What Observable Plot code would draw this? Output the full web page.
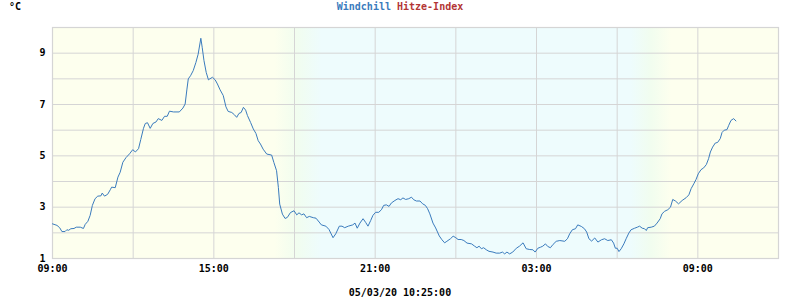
<!DOCTYPE html>
<html><head><meta charset="utf-8">
<script src="https://cdn.jsdelivr.net/npm/d3@7"></script>
<script src="https://cdn.jsdelivr.net/npm/@observablehq/plot@0.6"></script>
<style>
body{margin:0;background:#fff;}
#wrap{position:relative;width:800px;height:300px;font-family:"DejaVu Sans Mono",monospace;font-weight:bold;font-size:10px;color:#000;}
.lbl{position:absolute;white-space:pre;line-height:12px;}
</style></head><body><div id="wrap"></div>
<script>
// ---- data ----
const startDay = "2020-03-04";
const domainStart = "2020-03-04T09:00";
const domainEnd = "2020-03-05T12:00";
const unitLabel = "°C";
const seriesNames = ["Windchill", "Hitze-Index"];
const seriesColors = ["#3a7bbd", "#b33535"];
const caption = "05/03/20 10:25:00";
const yTicks = [1, 3, 5, 7, 9];
const yGrid = [1, 2, 3, 4, 5, 6, 7, 8, 9, 10];
const xTicks = ["2020-03-04T09:00","2020-03-04T15:00","2020-03-04T21:00","2020-03-05T03:00","2020-03-05T09:00"];
const xGrid = ["2020-03-04T09:00","2020-03-04T12:00","2020-03-04T15:00","2020-03-04T18:00","2020-03-04T21:00","2020-03-05T00:00","2020-03-05T03:00","2020-03-05T06:00","2020-03-05T09:00","2020-03-05T12:00"];
// background: day / dusk / night
const bgStopTimes = ["2020-03-04T09:00","2020-03-04T17:15","2020-03-04T18:05","2020-03-04T19:00","2020-03-05T06:30","2020-03-05T07:15","2020-03-05T08:00","2020-03-05T12:00"];
const bgStopColors = ["#fdffee","#fdffee","#f1fdef","#eefcfd","#eefcfd","#f1fdef","#fdffee","#fdffee"];

const times = ["09:00","09:10","09:16","09:21","09:28","09:32","09:36","09:41","09:48","09:53","10:02","10:09","10:13","10:19","10:24","10:29","10:35","10:41","10:48","10:51","10:56","11:03","11:09","11:12","11:20","11:26","11:31","11:37","11:44","11:52","11:59","12:05","12:12","12:17","12:23","12:27","12:32","12:38","12:44","12:51","12:56","13:04","13:10","13:16","13:21","13:30","13:43","13:51","13:56","14:00","14:03","14:08","14:14","14:20","14:25","14:31","14:34","14:38","14:43","14:48","14:51","14:57","15:03","15:08","15:14","15:21","15:27","15:32","15:40","15:46","15:51","15:56","16:01","16:06","16:11","16:15","16:22","16:28","16:34","16:39","16:44","16:50","16:58","17:09","17:14","17:20","17:24","17:27","17:33","17:39","17:44","17:51","17:59","18:05","18:10","18:16","18:21","18:27","18:33","18:42","18:48","18:55","19:00","19:10","19:17","19:26","19:32","19:40","19:46","19:52","20:00","20:10","20:15","20:20","20:26","20:33","20:39","20:44","20:50","20:55","21:01","21:08","21:14","21:19","21:25","21:31","21:36","21:44","21:51","21:57","22:02","22:08","22:15","22:21","22:26","22:32","22:40","22:46","22:52","22:57","23:02","23:09","23:15","23:23","23:29","23:35","23:40","23:48","23:54","00:00","00:05","00:12","00:18","00:25","00:35","00:42","00:47","00:52","00:57","01:02","01:08","01:14","01:23","01:30","01:38","01:44","01:49","01:54","02:00","02:07","02:15","02:22","02:30","02:37","02:45","02:52","02:57","03:03","03:09","03:14","03:20","03:25","03:31","03:37","03:44","03:52","04:03","04:09","04:14","04:20","04:27","04:32","04:40","04:47","04:52","04:57","05:03","05:10","05:17","05:25","05:32","05:39","05:47","05:52","05:56","06:00","06:04","06:09","06:15","06:20","06:26","06:31","06:39","06:45","06:50","06:56","07:01","07:05","07:08","07:16","07:23","07:29","07:36","07:40","07:46","07:53","07:59","08:04","08:10","08:17","08:25","08:34","08:40","08:45","08:51","08:56","09:01","09:07","09:13","09:19","09:24","09:28","09:33","09:39","09:44","09:50","09:54","09:59","10:05","10:09","10:14","10:20","10:25"];

const windchill = [2.35,2.29,2.20,2.05,2.05,2.12,2.10,2.16,2.17,2.22,2.22,2.17,2.33,2.45,2.68,3.07,3.33,3.43,3.44,3.55,3.43,3.50,3.68,3.78,3.76,4.17,4.36,4.75,4.93,5.08,5.24,5.15,5.28,5.64,6.07,6.26,6.29,6.07,6.26,6.32,6.45,6.38,6.54,6.54,6.74,6.71,6.71,6.86,7.02,7.60,8.00,8.12,8.32,8.64,8.96,9.58,9.23,8.71,8.25,7.96,8.00,8.06,7.96,7.80,7.57,7.35,6.91,6.73,6.69,6.60,6.50,6.65,6.69,6.89,6.78,6.57,6.30,6.05,5.87,5.59,5.46,5.26,5.07,5.03,4.74,4.42,3.77,3.12,2.73,2.56,2.60,2.79,2.86,2.70,2.78,2.70,2.74,2.59,2.64,2.59,2.57,2.42,2.31,2.26,2.13,1.81,1.96,2.26,2.26,2.20,2.26,2.31,2.38,2.18,2.38,2.55,2.40,2.26,2.48,2.68,2.80,2.80,2.90,3.07,3.09,3.03,3.16,3.26,3.33,3.29,3.36,3.30,3.33,3.39,3.29,3.24,3.24,3.13,3.07,2.94,2.74,2.38,2.19,1.88,1.73,1.61,1.67,1.77,1.87,1.81,1.74,1.74,1.70,1.60,1.57,1.48,1.42,1.48,1.38,1.42,1.34,1.28,1.25,1.21,1.21,1.25,1.18,1.25,1.18,1.25,1.40,1.48,1.61,1.38,1.35,1.34,1.25,1.40,1.44,1.48,1.57,1.47,1.42,1.55,1.67,1.70,1.67,1.77,1.96,2.12,2.16,2.31,2.25,2.16,2.03,1.77,1.68,1.80,1.64,1.73,1.77,1.70,1.73,1.60,1.40,1.40,1.27,1.38,1.57,1.77,1.99,2.12,2.18,2.22,2.26,2.18,2.16,2.09,2.20,2.22,2.26,2.38,2.55,2.74,2.84,2.90,3.00,3.30,3.24,3.13,3.26,3.37,3.48,3.72,3.91,4.08,4.30,4.46,4.53,4.66,4.89,5.15,5.34,5.50,5.52,5.67,5.91,6.00,6.02,6.19,6.38,6.45,6.36];

// ---- build ----
const parse = s => new Date(s + ":00Z");
let day = new Date(startDay + "T00:00:00Z");
let prevMin = -1;
const data = [];
for (let i = 0; i < Math.min(times.length, windchill.length); i++) {
  const [h, m] = times[i].split(":").map(Number);
  const mins = h * 60 + m;
  if (mins < prevMin) day = new Date(day.getTime() + 86400000);
  prevMin = mins;
  data.push({t: new Date(day.getTime() + mins * 60000), v: windchill[i]});
}

const gridColor = "#d5d5d5";
const fmt = d3.utcFormat("%H:%M");
const plot = Plot.plot({
  width: 800,
  height: 300,
  marginTop: 27,
  marginBottom: 42,
  marginLeft: 52,
  marginRight: 22,
  style: {fontFamily: '"DejaVu Sans Mono", monospace', fontSize: "10px", fontWeight: "bold", color: "#000", background: "transparent"},
  x: {type: "utc", domain: [parse(domainStart), parse(domainEnd)]},
  y: {domain: [1, 10]},
  marks: [
    Plot.frame({fill: "url(#bgGrad)", stroke: null}),
    Plot.gridY(yGrid, {stroke: gridColor, strokeOpacity: 1, strokeWidth: 1}),
    Plot.gridX(xGrid.map(parse), {stroke: gridColor, strokeOpacity: 1, strokeWidth: 1}),
    Plot.frame({stroke: gridColor, strokeWidth: 1.2}),
    Plot.line(data, {x: "t", y: "v", stroke: seriesColors[0], strokeWidth: 1, curve: "linear"}),
    Plot.axisY(yTicks, {tickSize: 0, tickPadding: 7, label: null}),
    Plot.axisX(xTicks.map(parse), {tickSize: 0, tickPadding: 6, tickFormat: fmt, label: null})
  ]
});

// gradient background positioned with the plot's x scale
const xs = plot.scale("x");
const svgSel = d3.select(plot);
const defs = svgSel.insert("defs", ":first-child");
const x0 = xs.apply(parse(domainStart)), x1 = xs.apply(parse(domainEnd));
const grad = defs.append("linearGradient").attr("id", "bgGrad")
  .attr("gradientUnits", "userSpaceOnUse")
  .attr("x1", x0).attr("x2", x1).attr("y1", 0).attr("y2", 0);
bgStopTimes.forEach((s, i) => {
  grad.append("stop")
    .attr("offset", (xs.apply(parse(s)) - x0) / (x1 - x0))
    .attr("stop-color", bgStopColors[i]);
});

const wrap = document.getElementById("wrap");
wrap.appendChild(plot);
plot.style.position = "absolute";
plot.style.left = "0";
plot.style.top = "0";

function addLabel(html, css) {
  const d = document.createElement("div");
  d.className = "lbl";
  d.innerHTML = html;
  Object.assign(d.style, css);
  wrap.appendChild(d);
  return d;
}
addLabel(unitLabel, {left: "9px", top: "1px"});
addLabel(`<span style="color:${seriesColors[0]}">${seriesNames[0]}</span> <span style="color:${seriesColors[1]}">${seriesNames[1]}</span>`,
  {left: "0", width: "800px", textAlign: "center", top: "1px"});
addLabel(caption, {left: "0", width: "800px", textAlign: "center", top: "287px"});
</script>
</body></html>
